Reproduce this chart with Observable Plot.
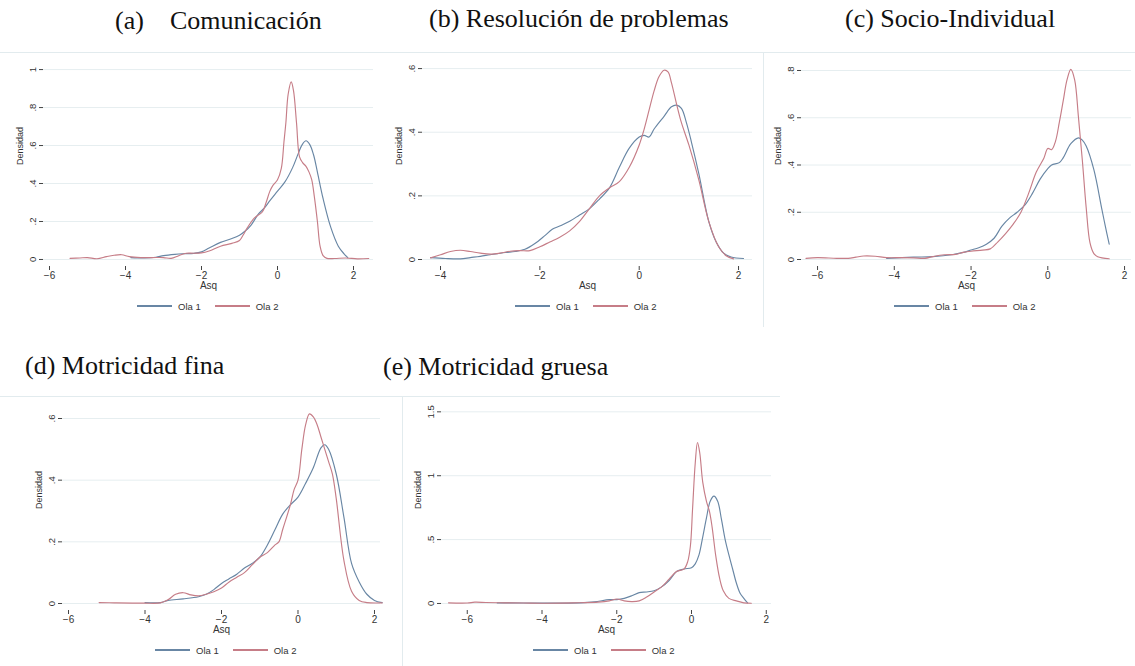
<!DOCTYPE html>
<html>
<head>
<meta charset="utf-8">
<script src="https://cdn.jsdelivr.net/npm/d3@7"></script>
<script src="https://cdn.jsdelivr.net/npm/@observablehq/plot@0.6"></script>
<style>
  html, body { margin: 0; padding: 0; background: #fff; }
  body { width: 1135px; height: 666px; position: relative; overflow: hidden; }
  .abs { position: absolute; }
  .title { position: absolute; font-family: "Liberation Serif", "Times New Roman", serif; font-size: 26px; line-height: 26px; color: #111; white-space: pre; }
  .hline { position: absolute; height: 1px; background: #e2ebee; }
  .vline { position: absolute; width: 1px; background: #e2ebee; }
  .legend { position: absolute; display: flex; align-items: center; font-family: "Liberation Sans", Arial, sans-serif; font-size: 9.5px; color: #333; height: 12px; }
  .legend .sw { width: 35px; height: 1.3px; margin-right: 6px; }
  .legend .lab { margin-right: 14px; }
</style>
</head>
<body>
<script>
// ---------- data ----------
const seriesNames = ["Ola 1", "Ola 2"];
const xAxisTitle = "Asq";
const yAxisTitle = "Densidad";
const panelTitles = ["(a)", "Comunicación", "(b) Resolución de problemas", "(c) Socio-Individual", "(d) Motricidad fina", "(e) Motricidad gruesa"];

const ticksX6 = [-6, -4, -2, 0, 2];
const ticksX4 = [-4, -2, 0, 2];
const ticksYa = [0, 0.2, 0.4, 0.6, 0.8, 1];
const ticksYb = [0, 0.2, 0.4, 0.6];
const ticksYc = [0, 0.2, 0.4, 0.6, 0.8];
const ticksYd = [0, 0.2, 0.4, 0.6];
const ticksYe = [0, 0.5, 1, 1.5];

// (a) Comunicación
const a_ola1 = [[-3.86,0.01],[-3.5,0.008],[-3.2,0.012],[-3.0,0.02],[-2.7,0.027],[-2.5,0.03],[-2.2,0.032],[-2.0,0.04],[-1.8,0.06],[-1.5,0.09],[-1.2,0.11],[-1.0,0.128],[-0.85,0.15],[-0.7,0.18],[-0.5,0.24],[-0.35,0.27],[-0.2,0.31],[0,0.36],[0.2,0.41],[0.4,0.485],[0.55,0.56],[0.65,0.605],[0.75,0.625],[0.85,0.605],[0.95,0.55],[1.05,0.46],[1.2,0.32],[1.4,0.17],[1.6,0.07],[1.75,0.03],[1.85,0.01]];
const a_ola2 = [[-5.46,0.006],[-5.2,0.008],[-5.0,0.01],[-4.75,0.004],[-4.5,0.015],[-4.3,0.022],[-4.1,0.025],[-3.9,0.015],[-3.6,0.01],[-3.3,0.01],[-3.0,0.01],[-2.8,0.006],[-2.6,0.02],[-2.4,0.033],[-2.2,0.033],[-2.0,0.035],[-1.8,0.045],[-1.5,0.07],[-1.2,0.085],[-1.0,0.1],[-0.9,0.13],[-0.8,0.165],[-0.6,0.22],[-0.4,0.25],[-0.3,0.3],[-0.2,0.36],[-0.12,0.39],[0,0.42],[0.1,0.48],[0.17,0.62],[0.22,0.72],[0.28,0.87],[0.36,0.935],[0.42,0.89],[0.5,0.72],[0.58,0.54],[0.66,0.51],[0.75,0.49],[0.83,0.46],[0.9,0.42],[0.97,0.33],[1.05,0.2],[1.12,0.07],[1.2,0.02],[1.3,0.006],[1.5,0.005],[1.8,0.008],[2.1,0.003],[2.4,0.005]];

// (b) Resolución de problemas
const b_ola1 = [[-4.2,0.006],[-3.9,0.003],[-3.6,0.002],[-3.4,0.006],[-3.2,0.01],[-3.0,0.015],[-2.7,0.022],[-2.5,0.025],[-2.3,0.032],[-2.1,0.05],[-1.9,0.075],[-1.75,0.095],[-1.6,0.105],[-1.4,0.12],[-1.2,0.14],[-1.0,0.16],[-0.8,0.19],[-0.6,0.225],[-0.4,0.29],[-0.2,0.35],[0,0.385],[0.1,0.39],[0.2,0.385],[0.3,0.41],[0.5,0.45],[0.65,0.48],[0.75,0.485],[0.85,0.475],[0.95,0.43],[1.05,0.37],[1.2,0.27],[1.4,0.12],[1.55,0.055],[1.7,0.02],[1.85,0.008],[2.1,0.003]];
const b_ola2 = [[-4.2,0.005],[-4.0,0.015],[-3.8,0.025],[-3.6,0.029],[-3.4,0.025],[-3.2,0.02],[-3.0,0.017],[-2.8,0.02],[-2.6,0.026],[-2.4,0.028],[-2.2,0.028],[-2.0,0.04],[-1.8,0.055],[-1.6,0.07],[-1.4,0.09],[-1.2,0.12],[-1.0,0.16],[-0.8,0.2],[-0.6,0.225],[-0.4,0.245],[-0.2,0.29],[0,0.36],[0.1,0.41],[0.2,0.47],[0.3,0.53],[0.4,0.575],[0.5,0.595],[0.58,0.59],[0.65,0.555],[0.75,0.49],[0.85,0.43],[1.0,0.36],[1.2,0.25],[1.4,0.12],[1.6,0.04],[1.75,0.012],[1.9,0.002]];

// (c) Socio-Individual
const c_ola1 = [[-4.2,0.005],[-3.5,0.01],[-3.0,0.012],[-2.5,0.02],[-2.2,0.03],[-2.0,0.04],[-1.8,0.05],[-1.6,0.065],[-1.4,0.09],[-1.2,0.14],[-1.0,0.175],[-0.8,0.2],[-0.6,0.23],[-0.4,0.28],[-0.2,0.34],[0,0.385],[0.1,0.4],[0.3,0.41],[0.4,0.43],[0.6,0.49],[0.8,0.515],[0.9,0.505],[1.0,0.48],[1.2,0.38],[1.4,0.22],[1.5,0.14],[1.6,0.065]];
const c_ola2 = [[-6.3,0.005],[-6.0,0.008],[-5.5,0.005],[-5.2,0.005],[-5.0,0.01],[-4.8,0.015],[-4.5,0.014],[-4.2,0.008],[-3.8,0.008],[-3.5,0.007],[-3.2,0.005],[-3.0,0.012],[-2.7,0.02],[-2.4,0.022],[-2.2,0.03],[-2.0,0.035],[-1.7,0.04],[-1.5,0.045],[-1.3,0.075],[-1.1,0.11],[-0.9,0.15],[-0.7,0.2],[-0.5,0.28],[-0.3,0.37],[-0.1,0.43],[0,0.47],[0.1,0.465],[0.2,0.5],[0.3,0.58],[0.4,0.67],[0.5,0.76],[0.6,0.805],[0.7,0.76],[0.8,0.6],[0.9,0.42],[1.0,0.22],[1.1,0.07],[1.2,0.025],[1.3,0.012],[1.6,0.003]];

// (d) Motricidad fina
const d_ola1 = [[-4.0,0.003],[-3.6,0.003],[-3.4,0.01],[-3.0,0.015],[-2.6,0.022],[-2.4,0.03],[-2.2,0.045],[-2.0,0.065],[-1.8,0.08],[-1.6,0.095],[-1.4,0.115],[-1.2,0.13],[-1.0,0.15],[-0.8,0.19],[-0.6,0.24],[-0.4,0.29],[-0.2,0.32],[0,0.345],[0.2,0.39],[0.4,0.44],[0.6,0.505],[0.7,0.515],[0.8,0.5],[1.0,0.42],[1.2,0.28],[1.4,0.13],[1.6,0.07],[1.8,0.03],[2.0,0.01],[2.2,0.003]];
const d_ola2 = [[-5.2,0.003],[-4.8,0.002],[-4.0,0.001],[-3.6,0.002],[-3.4,0.012],[-3.2,0.03],[-3.0,0.035],[-2.8,0.028],[-2.6,0.025],[-2.4,0.03],[-2.2,0.038],[-2.0,0.05],[-1.8,0.07],[-1.6,0.085],[-1.4,0.1],[-1.2,0.125],[-1.0,0.15],[-0.8,0.165],[-0.6,0.19],[-0.5,0.2],[-0.4,0.24],[-0.2,0.32],[-0.1,0.37],[0,0.4],[0.1,0.5],[0.2,0.58],[0.3,0.615],[0.4,0.605],[0.5,0.58],[0.6,0.54],[0.7,0.5],[0.8,0.46],[0.9,0.42],[1.0,0.34],[1.2,0.14],[1.4,0.04],[1.6,0.01],[1.8,0.003],[2.2,0.002]];

// (e) Motricidad gruesa
const e_ola1 = [[-5.2,0.005],[-4.0,0.003],[-3.0,0.005],[-2.6,0.012],[-2.2,0.03],[-2.0,0.03],[-1.8,0.04],[-1.6,0.06],[-1.4,0.085],[-1.2,0.09],[-1.0,0.1],[-0.8,0.13],[-0.6,0.18],[-0.4,0.25],[-0.2,0.27],[0,0.28],[0.1,0.31],[0.2,0.38],[0.3,0.52],[0.4,0.67],[0.5,0.8],[0.6,0.84],[0.7,0.8],[0.8,0.66],[0.9,0.5],[1.0,0.38],[1.1,0.27],[1.2,0.16],[1.3,0.08],[1.4,0.04],[1.5,0.005]];
const e_ola2 = [[-6.5,0.005],[-6.0,0.004],[-5.8,0.01],[-5.5,0.008],[-5.0,0.005],[-4.5,0.004],[-4.0,0.002],[-3.5,0.003],[-3.0,0.006],[-2.5,0.01],[-2.2,0.02],[-2.0,0.035],[-1.8,0.02],[-1.6,0.015],[-1.4,0.02],[-1.2,0.05],[-1.0,0.09],[-0.8,0.13],[-0.6,0.19],[-0.4,0.25],[-0.2,0.27],[-0.1,0.33],[-0.03,0.45],[0.03,0.75],[0.1,1.1],[0.16,1.26],[0.22,1.18],[0.3,0.95],[0.4,0.8],[0.48,0.72],[0.55,0.6],[0.65,0.37],[0.75,0.2],[0.85,0.1],[1.0,0.04],[1.2,0.02],[1.4,0.005],[1.6,0.002]];

// ---------- styling / layout ----------
const colors = {"Ola 1": "#6886a4", "Ola 2": "#c67d87"};
const gridColor = "#e6eef0";
const axisColor = "#444";
const textColor = "#333";

const panels = [
  {ola1: a_ola1, ola2: a_ola2, xTicks: ticksX6, yTicks: ticksYa, xDomain: [-6.158, 2.526], yDomain: [-0.037, 1.032],
   box: {left: 0, top: 55, width: 380, height: 240, ml: 43, mr: 7}, legendLeft: 137, legendTop: 300},
  {ola1: b_ola1, ola2: b_ola2, xTicks: ticksX4, yTicks: ticksYb, xDomain: [-4.363, 2.281], yDomain: [-0.022, 0.616],
   box: {left: 380, top: 55, width: 380, height: 240, ml: 42, mr: 8}, legendLeft: 515, legendTop: 300},
  {ola1: c_ola1, ola2: c_ola2, xTicks: ticksX6, yTicks: ticksYc, xDomain: [-6.418, 2.181], yDomain: [-0.0296, 0.8296],
   box: {left: 765, top: 55, width: 370, height: 240, ml: 36, mr: 4}, legendLeft: 894, legendTop: 300},
  {ola1: d_ola1, ola2: d_ola2, xTicks: ticksX6, yTicks: ticksYd, xDomain: [-6.157, 2.157], yDomain: [-0.0227, 0.6357],
   box: {left: 0, top: 399, width: 390, height: 240, ml: 62, mr: 10}, legendLeft: 155, legendTop: 644},
  {ola1: e_ola1, ola2: e_ola2, xTicks: ticksX6, yTicks: ticksYe, xDomain: [-6.689, 2.14], yDomain: [-0.055, 1.534],
   box: {left: 404, top: 399, width: 380, height: 240, ml: 37, mr: 13}, legendLeft: 533, legendTop: 644}
];
const marginTop = 8, marginBottom = 29;

function fmt(d) { return d === 0 ? "0" : String(d).replace(/^0\./, "."); }

// decorative graph-region borders
function addDiv(cls, css) { const el = document.createElement("div"); el.className = cls; Object.assign(el.style, css); document.body.appendChild(el); return el; }
addDiv("hline", {left: "0px", top: "52px", width: "1135px"});
addDiv("vline", {left: "763px", top: "52px", height: "275px"});
addDiv("hline", {left: "0px", top: "396px", width: "780px"});
addDiv("vline", {left: "402px", top: "396px", height: "270px"});

// titles
const titlePos = [[115, 8], [170, 8], [429, 6], [845, 6], [25, 353], [383, 354]];
panelTitles.forEach((t, i) => {
  const el = addDiv("title", {left: titlePos[i][0] + "px", top: titlePos[i][1] + "px"});
  el.textContent = t;
});

for (const p of panels) {
  const toObj = (arr) => arr.map(([x, y]) => ({x, y}));
  const chart = Plot.plot({
    width: p.box.width,
    height: p.box.height,
    marginLeft: p.box.ml,
    marginRight: p.box.mr,
    marginTop,
    marginBottom,
    x: {domain: p.xDomain},
    y: {domain: p.yDomain},
    style: {fontFamily: '"Liberation Sans", Arial, sans-serif', fontSize: "9.5px", color: textColor, background: "transparent", overflow: "visible"},
    marks: [
      Plot.gridY(p.yTicks, {stroke: gridColor, strokeOpacity: 1, strokeWidth: 1}),
      Plot.line(toObj(p.ola1), {x: "x", y: "y", stroke: colors["Ola 1"], strokeWidth: 1.15, curve: "catmull-rom"}),
      Plot.line(toObj(p.ola2), {x: "x", y: "y", stroke: colors["Ola 2"], strokeWidth: 1.15, curve: "catmull-rom"}),
      Plot.axisX(p.xTicks, {tickSize: 4, tickPadding: 1, line: true, label: null, stroke: axisColor, fill: textColor, fontSize: 10}),
      Plot.axisY(p.yTicks, {tickSize: 4, tickRotate: -90, tickPadding: 4, line: true, label: null, stroke: axisColor, fill: textColor, tickFormat: fmt, fontSize: 9.5}),
      Plot.text([xAxisTitle], {frameAnchor: "bottom", dy: 22, fill: textColor, fontSize: 10}),
      Plot.text([yAxisTitle], {frameAnchor: "left", dx: -23, rotate: -90, fill: textColor, fontSize: 9})
    ]
  });
  const wrap = addDiv("abs", {left: p.box.left + "px", top: p.box.top + "px"});
  wrap.appendChild(chart);

  const lg = addDiv("legend", {left: p.legendLeft + "px", top: p.legendTop + "px"});
  seriesNames.forEach(s => {
    const sw = document.createElement("span"); sw.className = "sw"; sw.style.background = colors[s]; lg.appendChild(sw);
    const lab = document.createElement("span"); lab.className = "lab"; lab.textContent = s; lg.appendChild(lab);
  });
}
</script>
</body>
</html>
